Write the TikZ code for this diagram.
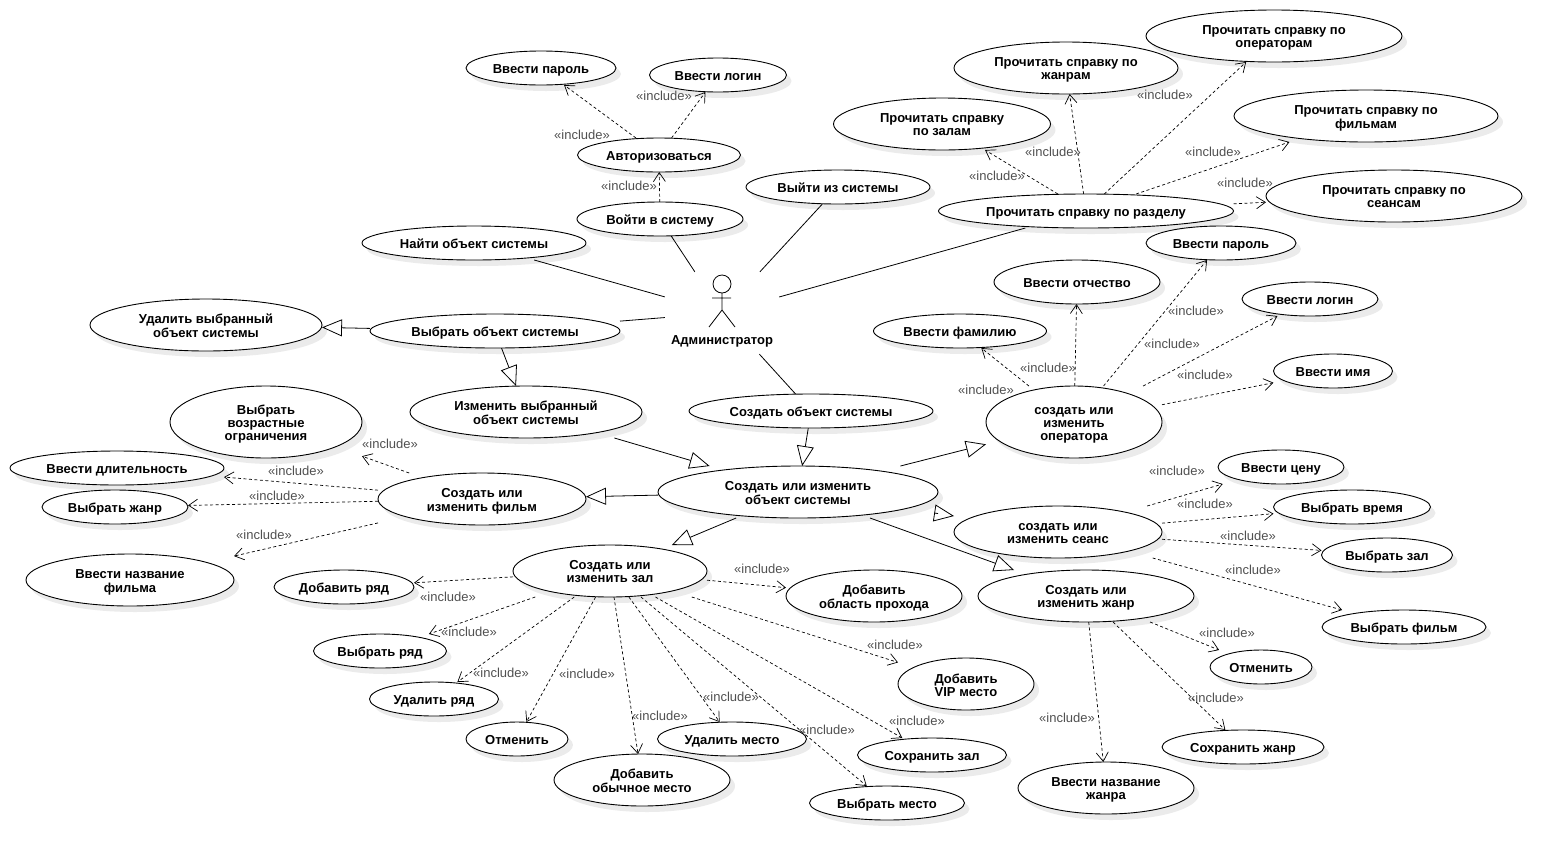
\documentclass[tikz,border=0pt]{standalone}
\usepackage{fontspec}
\setmainfont{Liberation Sans}
\usepackage{tikz}
\usetikzlibrary{shapes.geometric,arrows.meta}

\pgfdeclarelayer{shade}
\pgfdeclarelayer{lines}
\pgfsetlayers{shade,lines,main}

\definecolor{inclgray}{HTML}{505050}

\tikzset{
  ucshape/.style={draw, ellipse, fill=white, inner sep=0pt, line width=0.9pt},
  ucshade/.style={ellipse, fill=black!8, inner sep=0pt, xshift=5pt, yshift=-6pt},
  ucbox/.style={rectangle, inner sep=0pt, outer sep=0pt,
    font=\fontsize{13}{13}\selectfont\bfseries},
  assoc/.style={line width=0.8pt},
  gener/.style={line width=0.8pt, -{Triangle[open, length=20pt, width=17pt]}},
  incl/.style={line width=0.7pt, dash pattern=on 3pt off 2.5pt,
    -{Straight Barb[length=9pt, width=12pt]}},
  incltext/.style={text=inclgray, inner sep=0pt, font=\fontsize{13}{13}\selectfont}
}

% shadow, ellipse, and a box of the same size with the text, for the connectors
\newcommand{\usecase}[5]{
  \begin{pgfonlayer}{shade}
    \node[ucshade, minimum width=#3pt, minimum height=#4pt] (#1shade) at (#2) {};
  \end{pgfonlayer}
  \node[ucshape, minimum width=#3pt, minimum height=#4pt] (#1shape) at (#2) {};
  \node[ucbox, minimum width=#3pt, minimum height=#4pt] (#1) at (#2)
    {\raisebox{-5.75pt}[0pt][0pt]{\begin{tabular}{@{}c@{}}#5\end{tabular}}};
}

\begin{document}
\begin{tikzpicture}[x=1pt, y=-1pt]
  \useasboundingbox (0,0) rectangle (1562,860);

  % Актёр
  \node[minimum width=114pt, minimum height=82pt, inner sep=0pt] (admin) at (722,313) {};
  \draw[line width=0.8pt] (722,284) circle (9);
  \draw[line width=0.8pt] (722,293) -- (722,310) (712,298) -- (731,298)
    (709,327) -- (722,310) -- (735,327);
  \node[font=\fontsize{13}{13}\selectfont\bfseries, inner sep=0pt] (admintext) at (722,341) {Администратор};

  % Верхняя часть
  \usecase{vvpar}{541,68}{150}{34}{Ввести пароль}
  \usecase{vvlog}{718,75}{137}{34}{Ввести логин}
  \usecase{avt}{659,155}{163}{34}{Авторизоваться}
  \usecase{login}{660,219}{166}{34}{Войти в систему}
  \usecase{logout}{838,187}{184}{34}{Выйти из системы}
  \usecase{find}{474,243}{224}{34}{Найти объект системы}

  % Выбор объекта
  \usecase{del}{206,325}{232}{52}{Удалить выбранный\\объект системы}
  \usecase{sel}{495,331}{250}{34}{Выбрать объект системы}
  \usecase{edit}{526,412}{232}{52}{Изменить выбранный\\объект системы}
  \usecase{create}{811,411}{244}{34}{Создать объект системы}
  \usecase{obj}{798,492}{280}{52}{Создать или изменить\\объект системы}

  % Фильм
  \usecase{film}{482,499}{208}{52}{Создать или\\изменить фильм}
  \usecase{fage}{266,422}{192}{72}{Выбрать\\возрастные\\ограничения}
  \usecase{flen}{117,468}{214}{34}{Ввести длительность}
  \usecase{fgen}{115,507}{146}{34}{Выбрать жанр}
  \usecase{fname}{130,580}{208}{52}{Ввести название\\фильма}

  % Зал
  \usecase{zal}{610,571}{194}{52}{Создать или\\изменить зал}
  \usecase{zaddrow}{344,587}{140}{34}{Добавить ряд}
  \usecase{zselrow}{380,651}{133}{34}{Выбрать ряд}
  \usecase{zdelrow}{434,699}{129}{34}{Удалить ряд}
  \usecase{zcancel}{517,739}{102}{34}{Отменить}
  \usecase{zaddseat}{642,780}{176}{52}{Добавить\\обычное место}
  \usecase{zdelseat}{732,739}{149}{34}{Удалить место}
  \usecase{zselseat}{887,803}{155}{34}{Выбрать место}
  \usecase{zsave}{932,755}{149}{34}{Сохранить зал}
  \usecase{zvip}{966,684}{136}{52}{Добавить\\VIP место}
  \usecase{zpass}{874,596}{176}{52}{Добавить\\область прохода}

  % Жанр
  \usecase{genre}{1086,596}{216}{52}{Создать или\\изменить жанр}
  \usecase{gcancel}{1261,667}{102}{34}{Отменить}
  \usecase{gsave}{1243,747}{162}{34}{Сохранить жанр}
  \usecase{gname}{1106,788}{176}{52}{Ввести название\\жанра}

  % Сеанс
  \usecase{seans}{1058,532}{208}{52}{создать или\\изменить сеанс}
  \usecase{sprice}{1281,467}{126}{34}{Ввести цену}
  \usecase{stime}{1352,507}{157}{34}{Выбрать время}
  \usecase{szal}{1387,555}{131}{34}{Выбрать зал}
  \usecase{sfilm}{1404,627}{164}{34}{Выбрать фильм}

  % Оператор
  \usecase{oper}{1074,422}{176}{72}{создать или\\изменить\\оператора}
  \usecase{osur}{960,331}{173}{34}{Ввести фамилию}
  \usecase{opat}{1077,282}{166}{44}{Ввести отчество}
  \usecase{opas}{1221,243}{150}{34}{Ввести пароль}
  \usecase{olog}{1310,299}{136}{34}{Ввести логин}
  \usecase{onam}{1333,371}{119}{34}{Ввести имя}

  % Справка
  \usecase{help}{1086,211}{295}{34}{Прочитать справку по разделу}
  \usecase{hzal}{942,124}{217}{52}{Прочитать справку\\по залам}
  \usecase{hgen}{1066,68}{224}{52}{Прочитать справку по\\жанрам}
  \usecase{hope}{1274,36}{256}{52}{Прочитать справку по\\операторам}
  \usecase{hfil}{1366,116}{264}{52}{Прочитать справку по\\фильмам}
  \usecase{hsea}{1394,196}{256}{52}{Прочитать справку по\\сеансам}

  % Связи
  \begin{pgfonlayer}{lines}
    \foreach \i in {login,logout,find,sel,create,help} {
      \draw[assoc] (admin) -- (\i);
    }
    \draw[gener] (sel) -- (del);
    \draw[gener] (sel) -- (edit);
    \draw[gener] (edit) -- (obj);
    \draw[gener] (create) -- (obj);
    \foreach \i in {film,zal,genre,seans,oper} {
      \draw[gener] (obj) -- (\i);
    }
    \draw[incl] (login) -- (avt);
    \foreach \i in {vvpar,vvlog} {
      \draw[incl] (avt) -- (\i);
    }
    \foreach \i in {fage,flen,fgen,fname} {
      \draw[incl] (film) -- (\i);
    }
    \foreach \i in {zaddrow,zselrow,zdelrow,zcancel,zaddseat,zdelseat,zselseat,zsave,zvip,zpass} {
      \draw[incl] (zal) -- (\i);
    }
    \foreach \i in {gcancel,gsave,gname} {
      \draw[incl] (genre) -- (\i);
    }
    \foreach \i in {sprice,stime,szal,sfilm} {
      \draw[incl] (seans) -- (\i);
    }
    \foreach \i in {osur,opat,opas,olog,onam} {
      \draw[incl] (oper) -- (\i);
    }
    \foreach \i in {hzal,hgen,hope,hfil,hsea} {
      \draw[incl] (help) -- (\i);
    }
  \end{pgfonlayer}

  % Подписи
  \foreach \i/\j in {582/135,664/96,629/186,997/176,1053/152,1165/95,1213/152,1245/183,
    986/390,1048/368,1196/311,1172/344,1205/375,1177/471,1205/504,1248/536,1253/570,
    1227/633,1216/698,1067/718,390/444,296/471,277/496,264/535,448/597,469/632,501/673,
    587/674,660/716,731/697,827/730,917/721,895/645,762/569} {
    \node[incltext] (incl\i) at (\i,\j) {«include»};
  }
\end{tikzpicture}
\end{document}
